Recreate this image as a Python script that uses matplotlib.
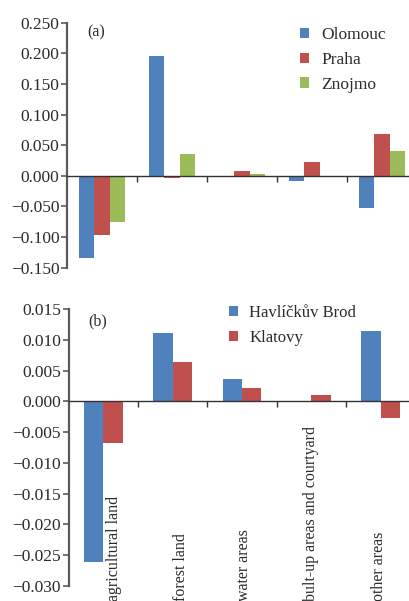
import matplotlib
matplotlib.use("Agg")
import matplotlib.pyplot as plt
import numpy as np

plt.rcParams['font.family'] = ['Liberation Serif', 'DejaVu Serif']

categories = ["agricultural land", "forest land", "water areas",
              "bult-up areas and courtyard", "other areas"]

# panel (a)
series_a = ["Olomouc", "Praha", "Znojmo"]
olomouc = [-0.135, 0.196, 0.000, -0.009, -0.052]
praha = [-0.097, -0.003, 0.008, 0.022, 0.068]
znojmo = [-0.075, 0.035, 0.002, -0.001, 0.040]
yticks_a = [-0.150, -0.100, -0.050, 0.000, 0.050, 0.100, 0.150, 0.200, 0.250]

# panel (b)
series_b = ["Havlíčkův Brod", "Klatovy"]
havlickuv_brod = [-0.0261, 0.0111, 0.0036, 0.0000, 0.0115]
klatovy = [-0.0068, 0.0064, 0.0022, 0.0011, -0.0027]
yticks_b = [-0.030, -0.025, -0.020, -0.015, -0.010, -0.005, 0.000, 0.005, 0.010, 0.015]

BLUE = "#4F81BD"
RED = "#C0504D"
GREEN = "#9BBB59"
TEXT = "#2b2b2b"
AXIS = "#5a5a5a"

W, H = 410, 601
fig = plt.figure(figsize=(W / 100, H / 100), dpi=100)

ax_a = fig.add_axes([67 / W, 1 - 267.5 / H, 350 / W, (267.5 - 22.7) / H])
ax_b = fig.add_axes([68.7 / W, 1 - 586 / H, 346.5 / W, (586 - 309) / H])

x = np.arange(len(categories))


def style(ax, yticks, fmt):
    ax.set_xlim(-0.5, len(categories) - 0.5)
    ax.set_ylim(yticks[0], yticks[-1])
    for s in ("top", "right"):
        ax.spines[s].set_visible(False)
    ax.spines["bottom"].set_position(("data", 0))
    ax.spines["left"].set_bounds(yticks[0], yticks[-1])
    ax.spines["left"].set_color(AXIS)
    ax.spines["left"].set_linewidth(1.6)
    ax.spines["bottom"].set_color("#333333")
    ax.spines["bottom"].set_linewidth(1.0)
    ax.set_yticks(yticks)
    ax.set_yticklabels([fmt(v) for v in yticks])
    ax.set_xticks(x[:-1] + 0.5)
    ax.set_xticklabels([])
    ax.tick_params(axis="y", direction="out", length=4, width=1.2,
                   color=AXIS, labelsize=12.5, labelcolor=TEXT, pad=1.5)
    ax.tick_params(axis="x", direction="out", length=4, width=1.0,
                   color="#333333")
    ax.patch.set_visible(False)


def fmt3(v):
    s = f"{v:.3f}"
    return s.replace("-", "\u2212")


# panel (a) bars
w_a = 0.222
for j, (vals, col, name) in enumerate(zip([olomouc, praha, znojmo],
                                          [BLUE, RED, GREEN], series_a)):
    ax_a.bar(x + (j - 1) * w_a, vals, width=w_a, color=col, label=name,
             linewidth=0, zorder=2)
style(ax_a, yticks_a, fmt3)
ax_a.text(0.057, 0.96, "(a)", transform=ax_a.transAxes, fontsize=11.5,
          color=TEXT, va="center", ha="left")
leg_a = ax_a.legend(loc="upper left", bbox_to_anchor=(0.62, 1.045), frameon=False,
                    fontsize=12.5, handlelength=0.55, handleheight=0.55,
                    handletextpad=0.7, labelspacing=0.5, labelcolor=TEXT)

# panel (b) bars
w_b = 0.28
for j, (vals, col, name) in enumerate(zip([havlickuv_brod, klatovy],
                                          [BLUE, RED], series_b)):
    ax_b.bar(x + (j - 0.5) * w_b, vals, width=w_b, color=col, label=name,
             linewidth=0, zorder=2)
style(ax_b, yticks_b, fmt3)
ax_b.text(0.055, 0.955, "(b)", transform=ax_b.transAxes, fontsize=11.5,
          color=TEXT, va="center", ha="left")
leg_b = ax_b.legend(loc="upper left", bbox_to_anchor=(0.418, 1.068), frameon=False,
                    fontsize=12, handlelength=0.55, handleheight=0.55,
                    handletextpad=0.7, labelspacing=0.55, labelcolor=TEXT)

# rotated category names along the bottom of panel (b)
label_shift = [0.16, 0.12, 0.03, 0.0, -0.02]
for i, (name, dx) in enumerate(zip(categories, label_shift)):
    xf = ax_b.transData.transform((i + dx, 0))[0]
    fig.text(xf / W, 0.3 / H, name, rotation=90, ha="center", va="bottom",
             fontsize=11.5, color=TEXT)

fig.savefig("out.png", dpi=100)
